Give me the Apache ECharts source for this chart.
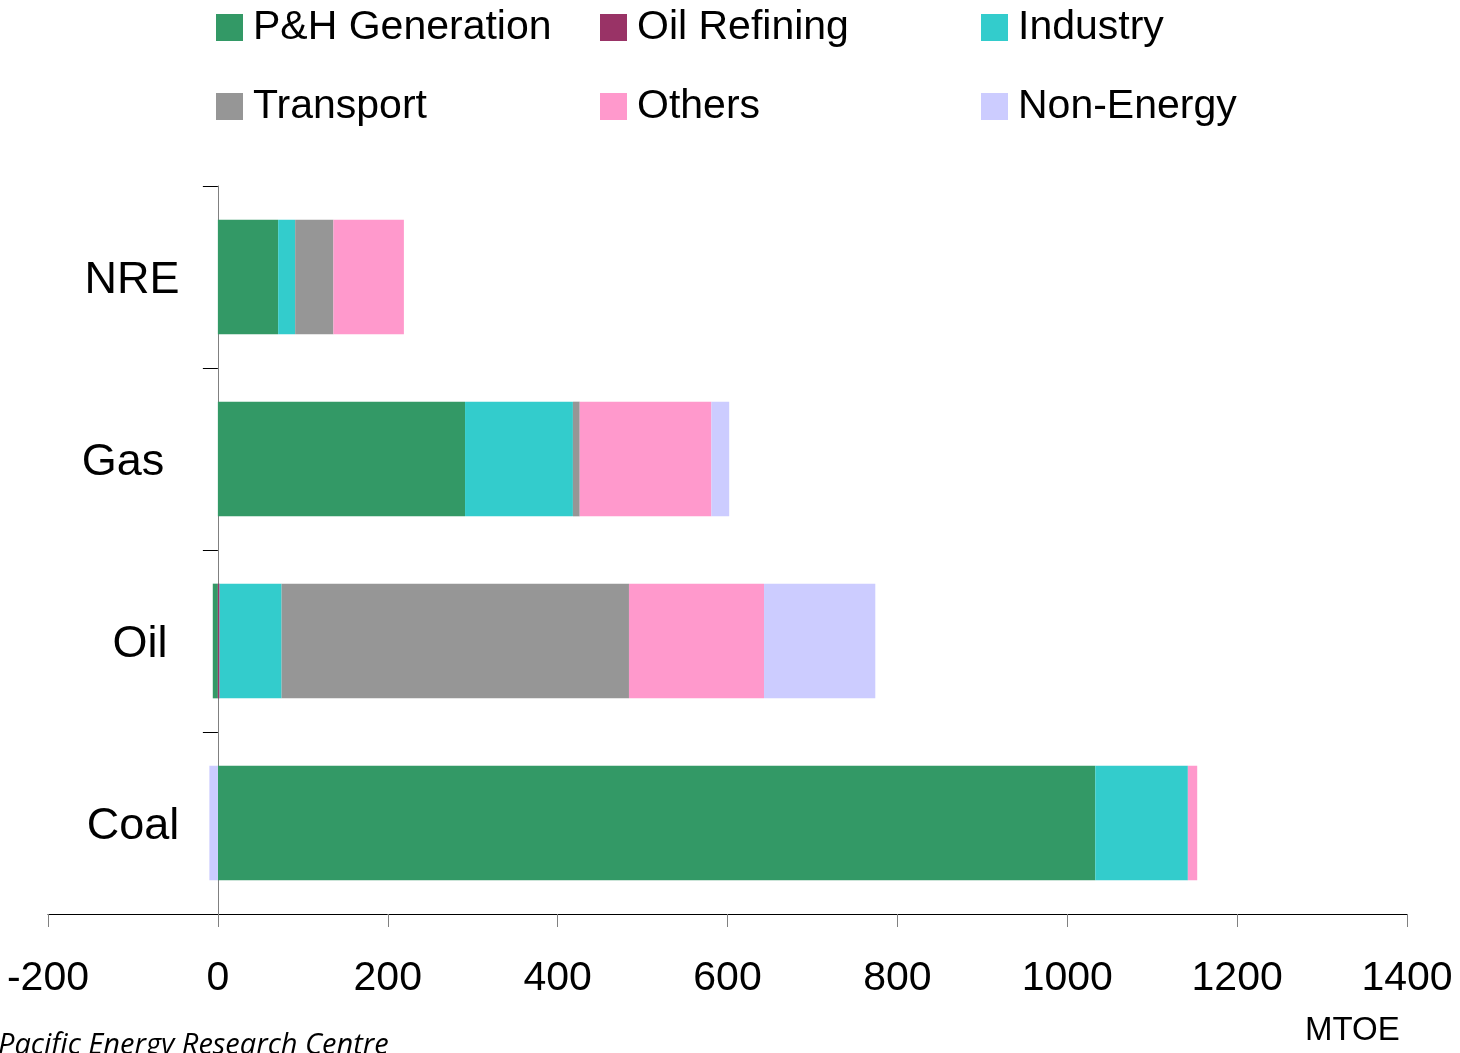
<!DOCTYPE html>
<html>
<head>
<meta charset="utf-8">
<script src="https://cdn.jsdelivr.net/npm/echarts@6/dist/echarts.min.js"></script>
<style>
html,body{margin:0;padding:0;background:#fff;}
#chart{width:1460px;height:1053px;}
</style>
</head>
<body>
<div id="chart"></div>
<script>
// Categories (bottom to top)
var categories = ['Coal', 'Oil', 'Gas', 'NRE'];
// Series values (MTOE), same order as categories
var phGeneration = [1033, -6, 291, 71];
var oilRefining  = [0, 2, 0, 0];
var industry     = [109, 73, 127, 20];
var transport    = [0, 409, 8, 45];
var others       = [11, 159, 155, 83];
var nonEnergy    = [-10, 131, 21, 0];
var xTicks = [-200, 0, 200, 400, 600, 800, 1000, 1200, 1400];

var seriesNames = ['P&H Generation', 'Oil Refining', 'Industry', 'Transport', 'Others', 'Non-Energy'];
var seriesData = [phGeneration, oilRefining, industry, transport, others, nonEnergy];
var colors = ['#339966', '#993366', '#33CCCC', '#969696', '#FF99CC', '#CCCCFF'];

var chart = echarts.init(document.getElementById('chart'), null, {renderer: 'canvas'});

var legendText = {fontFamily: 'Liberation Sans, Arial, sans-serif', fontSize: 41, color: '#000', padding: [0, 0, 0, 5]};
var legendCols = [216, 600, 981];
var legends = legendCols.map(function (x, c) {
  return {
    data: [seriesNames[c], seriesNames[c + 3]],
    left: x, top: 7, orient: 'vertical', padding: 0,
    icon: 'rect', itemWidth: 27, itemHeight: 27, itemGap: 38, itemTextGap: 16,
    textStyle: legendText, selectedMode: false
  };
});

// label placement tweaks (style only)
var catLabelStyle = {
  NRE: {padding: [7, 0, 0, 0]},
  Gas: {padding: [7, 18, 0, 0]},
  Oil: {padding: [7, 0, 0, 16]},
  Coal: {padding: [7, 0, 0, 2]}
};
var richLabels = {};
Object.keys(catLabelStyle).forEach(function (k) {
  richLabels[k] = Object.assign({fontFamily: 'Liberation Sans, Arial, sans-serif', fontSize: 45, color: '#000'}, catLabelStyle[k]);
});

var option = {
  animation: false,
  color: colors,
  legend: legends,
  grid: {left: 48, right: 53, top: 186, bottom: 139, containLabel: false, outerBoundsMode: 'none'},
  xAxis: {
    type: 'value',
    min: xTicks[0], max: xTicks[xTicks.length - 1], interval: 200,
    axisLine: {show: true, lineStyle: {color: '#000', width: 1}},
    axisTick: {show: true, length: 13, lineStyle: {color: '#808080', width: 1}},
    splitLine: {show: false},
    axisLabel: {fontFamily: 'Liberation Sans, Arial, sans-serif', fontSize: 41, color: '#000', margin: 44,
      formatter: function (v) { return String(v); }}
  },
  yAxis: {
    type: 'category',
    data: categories,
    axisLine: {show: true, onZero: true, lineStyle: {color: '#808080', width: 1}},
    axisTick: {show: true, length: 15, lineStyle: {color: '#000', width: 1}},
    axisLabel: {fontFamily: 'Liberation Sans, Arial, sans-serif', fontSize: 45, color: '#000', margin: -84, align: 'center',
      formatter: function (v) { return '{' + v + '|' + v + '}'; },
      rich: richLabels}
  },
  graphic: [
    {type: 'text', left: 1305, top: 1014, style: {text: 'MTOE', font: '33px "Liberation Sans", Arial, sans-serif', fill: '#000'}},
    {type: 'text', left: -2, top: 1031, style: {text: 'Pacific Energy Research Centre', font: 'italic 29px "Open Sans", "Noto Sans", sans-serif', fill: '#000'}}
  ],
  series: seriesNames.map(function (name, i) {
    return {
      name: name,
      type: 'bar',
      stack: 'total',
      barCategoryGap: '37%',
      data: seriesData[i],
      itemStyle: {color: colors[i]}
    };
  })
};
chart.setOption(option);
</script>
</body>
</html>
